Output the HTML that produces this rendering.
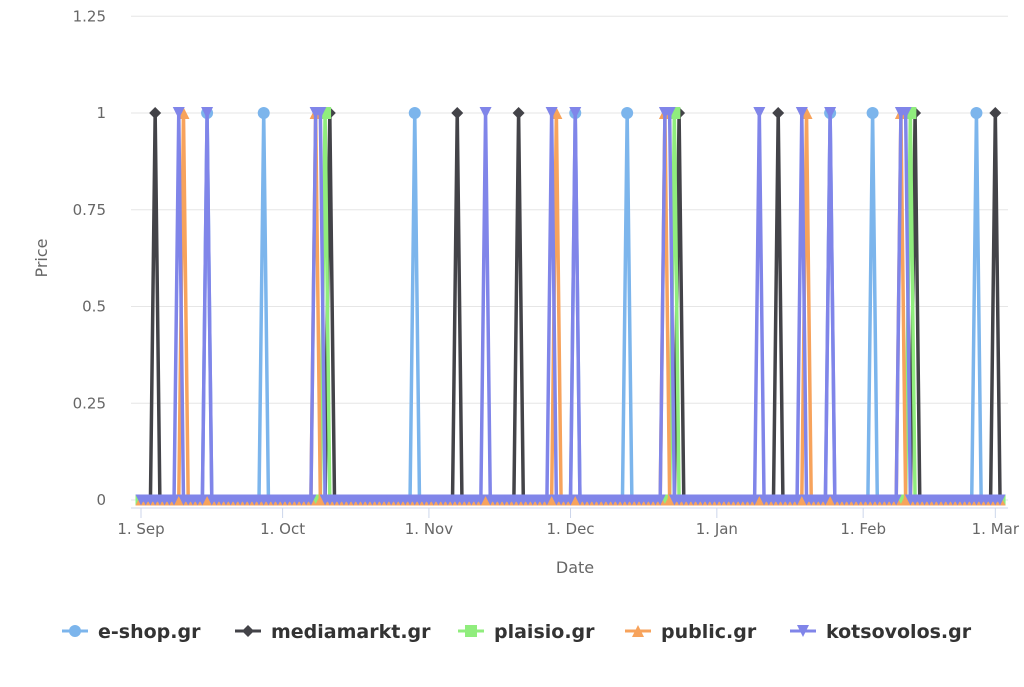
<!DOCTYPE html>
<html><head><meta charset="utf-8"><style>
body{margin:0;background:#fff;font-family:"DejaVu Sans","Liberation Sans",sans-serif;}
svg text{font-family:"DejaVu Sans","Liberation Sans",sans-serif;}
</style></head><body>
<svg id="c" width="1024" height="683"></svg>
<script>
const dayCount = 183;
const xTickLabels = ["1. Sep","1. Oct","1. Nov","1. Dec","1. Jan","1. Feb","1. Mar"];
const xTickDays = [0,30,61,91,122,153,181];
const yTicks = [0,0.25,0.5,0.75,1,1.25];
const yTickLabels = ["0","0.25","0.5","0.75","1","1.25"];
const seriesNames = ["e-shop.gr","mediamarkt.gr","plaisio.gr","public.gr","kotsovolos.gr"];
const eshopSpikes = [14,26,58,92,103,146,155,177];
const mediamarktSpikes = [3,40,67,80,114,135,164,181];
const plaisioSpikes = [39,113,163];
const publicSpikes = [9,37,88,111,141,161];
const kotsovolosSpikes = [8,14,37,38,73,87,92,111,112,131,140,146,161,162];

const NS="http://www.w3.org/2000/svg";
const svg=document.getElementById('c');
const X0=141, PXD=4.72, Y0=500, PXU=387;
const xs=d=>X0+d*PXD, ys=v=>Y0-v*PXU;
function el(t,a,p){const e=document.createElementNS(NS,t);for(const k in a)e.setAttribute(k,a[k]);(p||svg).appendChild(e);return e;}

yTicks.forEach((v,i)=>{
  const g=el('line',{x1:131,x2:1008,y1:ys(v),y2:ys(v),stroke:'#e6e6e6','stroke-width':1});
  
  
  const t=el('text',{x:106,y:ys(v)+5,'text-anchor':'end','font-size':15,fill:'#666'});
  t.textContent=yTickLabels[i];
  
  
});
const ax=el('line',{x1:131,x2:1008,y1:508,y2:508,stroke:'#ccd6eb','stroke-width':1});


xTickDays.forEach((d,i)=>{
  const tk=el('line',{x1:xs(d),x2:xs(d),y1:508,y2:518,stroke:'#ccd6eb'});
  
  
  const t=el('text',{x:xs(d),y:534,'text-anchor':'middle','font-size':15,fill:'#666'});
  t.textContent=xTickLabels[i];
  
  
});
let t=el('text',{x:575,y:573,'text-anchor':'middle','font-size':16,fill:'#666'});t.textContent='Date';


t=el('text',{x:47,y:258,'text-anchor':'middle','font-size':16,fill:'#666',transform:'rotate(-90 47 258)'});t.textContent='Price';



const colors=['#7cb5ec','#434348','#90ed7d','#f7a35c','#8085e9'];
const shapes=['circle','diamond','square','tri','tridown'];
const spikes=[eshopSpikes,mediamarktSpikes,plaisioSpikes,publicSpikes,kotsovolosSpikes];
function marker(shape,x,y,c,r,g){
  if(shape==='circle')return el('circle',{cx:x,cy:y,r:r,fill:c},g);
  let p;
  if(shape==='diamond')p=`${x},${y-r} ${x+r},${y} ${x},${y+r} ${x-r},${y}`;
  else if(shape==='square')p=`${x-r},${y-r} ${x+r},${y-r} ${x+r},${y+r} ${x-r},${y+r}`;
  else if(shape==='tri')p=`${x},${y-r} ${x+r},${y+r} ${x-r},${y+r}`;
  else p=`${x-r},${y-r} ${x+r},${y-r} ${x},${y+r}`;
  return el('polygon',{points:p,fill:c},g);
}
spikes.forEach((sp,si)=>{
  const g=el('g',{});
  
  
  const vals=[];for(let d=0;d<dayCount;d++)vals.push(sp.includes(d)?1:0);
  const pts=vals.map((v,d)=>xs(d)+','+ys(v)).join(' ');
  const line=el('polyline',{points:pts,fill:'none',stroke:colors[si],'stroke-width':3.5,'stroke-linejoin':'round'},g);
  
  
  vals.forEach((v,d)=>{
    const m=marker(shapes[si],xs(d),ys(v),colors[si],v?6:5.5,g);
    
    
  });
});
const legX=[62,235,458,625,790];
seriesNames.forEach((n,i)=>{
  const g=el('g',{});
  
  
  el('line',{x1:legX[i],x2:legX[i]+26,y1:631,y2:631,stroke:colors[i],'stroke-width':3},g);
  marker(shapes[i],legX[i]+13,631,colors[i],6,g);
  const tt=el('text',{x:legX[i]+36,y:638,'font-size':19,fill:'#333','font-weight':'bold'},g);
  tt.textContent=n;
});
</script>
</body></html>
